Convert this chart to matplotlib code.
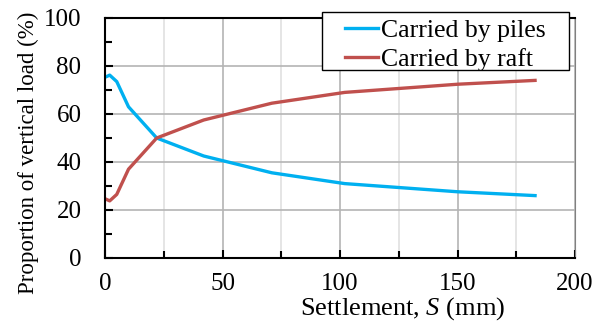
import numpy as np
import matplotlib
matplotlib.use("Agg")
import matplotlib.pyplot as plt
from matplotlib.ticker import MultipleLocator
from matplotlib.patches import Rectangle

plt.rcParams['font.family'] = ['Liberation Serif', 'DejaVu Serif']
plt.rcParams['mathtext.fontset'] = 'custom'
plt.rcParams['mathtext.rm'] = 'Liberation Serif'
plt.rcParams['mathtext.it'] = 'Liberation Serif:italic'

# settlement (mm) and share of vertical load (%)
settlement = [0, 2, 5, 10, 22, 42, 71, 102, 150, 183]
piles = [75.3, 76.2, 73.5, 63.0, 50.0, 42.5, 35.5, 31.0, 27.6, 26.0]
raft = [24.7, 23.8, 26.5, 37.0, 50.0, 57.5, 64.5, 69.0, 72.4, 74.0]

W, H = 605, 327
fig = plt.figure(figsize=(W / 100, H / 100), dpi=100)
ax = fig.add_axes([105/W, 1-258/H, 470/W, 240/H])

ax.plot(settlement, piles, color='#00B0F0', lw=2.4, label='Carried by piles')
ax.plot(settlement, raft, color='#C0504D', lw=2.4, label='Carried by raft')

ax.set_xlim(0, 200)
ax.set_ylim(0, 100)
ax.xaxis.set_major_locator(MultipleLocator(50))
ax.xaxis.set_minor_locator(MultipleLocator(25))
ax.yaxis.set_major_locator(MultipleLocator(20))
ax.yaxis.set_minor_locator(MultipleLocator(10))

ax.grid(which='major', color='#b4b4b4', lw=1.2)
ax.grid(which='minor', axis='x', color='#e0e0e0', lw=1.2)
ax.set_axisbelow(True)

ax.tick_params(which='both', direction='in', width=1.5, labelsize=18)
ax.tick_params(which='major', length=6)
ax.tick_params(which='minor', length=5)
ax.tick_params(axis='y', pad=17)
ax.tick_params(axis='x', pad=11)
for side in ['left', 'bottom', 'top']:
    ax.spines[side].set_linewidth(1.5)
ax.spines['right'].set_color('#808080')

ax.set_xlabel('Settlement, $S$ (mm)', fontsize=19)
ax.xaxis.set_label_coords(0.633, -0.155)
ax.set_ylabel('Proportion of vertical load (%)', fontsize=16.5)
ax.yaxis.set_label_coords(-0.14, 0.4375)

# legend box drawn separately so the padding matches the original
box = Rectangle((322/W, 1-70/H), 247/W, 58/H, transform=fig.transFigure,
                facecolor='white', edgecolor='black', lw=1.0, zorder=5, clip_on=False)
ax.add_patch(box)
leg = ax.legend(loc='upper left', bbox_to_anchor=(345/W, 1-19/H),
                bbox_transform=fig.transFigure, fontsize=18.5, frameon=False,
                borderaxespad=0, borderpad=0, labelspacing=0.25,
                handlelength=1.3, handletextpad=0.12)
leg.set_zorder(6)

fig.savefig('out.png', dpi=100)
